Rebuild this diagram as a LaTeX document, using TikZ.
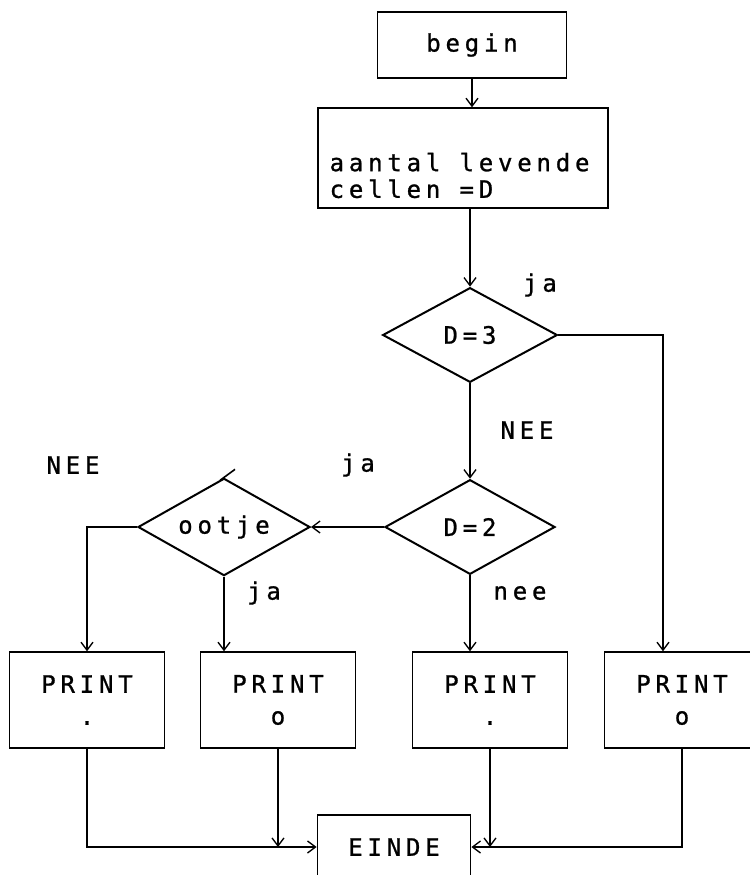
\documentclass[tikz,border=0pt]{standalone}
\usepackage{fontspec}
\newfontfamily\plotfont{DejaVu Sans Mono}[LetterSpace=20, FakeBold=1]
\newcommand{\gap}{\hspace{0.8em}}
\usetikzlibrary{shapes,arrows,arrows.meta,positioning}

\begin{document}
\begin{tikzpicture}[x=0.75pt, y=-0.75pt, >={Straight Barb[length=6pt, width=9pt]}, font=\plotfont\fontsize{18}{20}\selectfont]
    \tikzstyle{block} = [rectangle, draw, line width=1.1pt, align=center, inner sep=0pt]
    \tikzstyle{test} = [diamond, draw, line width=1.5pt, inner sep=0pt, aspect=1.8]
    \tikzstyle{line} = [draw, line width=1pt, ->]
    \tikzstyle{tag} = [inner sep=0pt]

    \useasboundingbox (0,0) rectangle (750,875);
    \clip (0,0) rectangle (750,875);

    \node [block, minimum width=142pt, minimum height=49.5pt] (begin) at (472,45) {begin};
    \node [block, minimum width=217.5pt, minimum height=75pt, text width=200pt, align=left] (tel) at (463,158) {\rule{0pt}{40pt}aantal\gap levende\\cellen\gap =D};

    \node [test, minimum width=131pt, minimum height=71pt] (d3) at (470,335) {D=3};
    \node [test, minimum width=127.5pt, minimum height=71pt] (d2) at (470,527) {D=2};
    \node [test, minimum width=129pt, minimum height=73pt] (ootje) at (224,527) {ootje};

    \node [block, minimum width=116.25pt, minimum height=72pt] (p1) at (87,700) {PRINT\\[4pt].};
    \node [block, minimum width=116.25pt, minimum height=72pt] (p2) at (278,700) {PRINT\\[4pt]o};
    \node [block, minimum width=116.25pt, minimum height=72pt] (p3) at (490,700) {PRINT\\[4pt].};
    \node [block, minimum width=116.25pt, minimum height=72pt] (p4) at (682,700) {PRINT\\[4pt]o};
    \node [block, minimum width=115pt, minimum height=48pt] (einde) at (394,847) {EINDE};

    % labels
    \node [tag] (ja1) at (540,285) {ja};
    \node [tag] (nee1) at (527,430) {NEE};
    \node [tag] (ja2) at (358,465) {ja};
    \node [tag] (nee2) at (73,465) {NEE};
    \node [tag] (ja3) at (264,593) {ja};
    \node [tag] (nee3) at (520,593) {nee};

    \path [line] (begin.south) -- (begin.south |- tel.north);
    \path [line] (d3.north |- tel.south) -- (d3.north);
    \path [line] (d3.east) -| ([xshift=-14.25pt]p4.north);
    \path [line] (d3.south) -- (d2.north);
    \path [line] (d2.west) -- (ootje.east);
    \path [line] (ootje.west) -| (p1.north);
    \path [line] (ootje.south) -- (ootje.south |- p2.north);
    \path [line] (d2.south) -- (d2.south |- p3.north);

    \path [line] (p1.south) |- (einde.west);
    \path [line] (p2.south) -- (p2.south |- einde.west);
    \path [line] (p3.south) -- (p3.south |- einde.east);
    \path [line] (p4.south) |- (einde.east);

    \draw [line width=1.2pt] ([shift={(-4,3)}]ootje.north) -- ++(15,-11);
\end{tikzpicture}
\end{document}
